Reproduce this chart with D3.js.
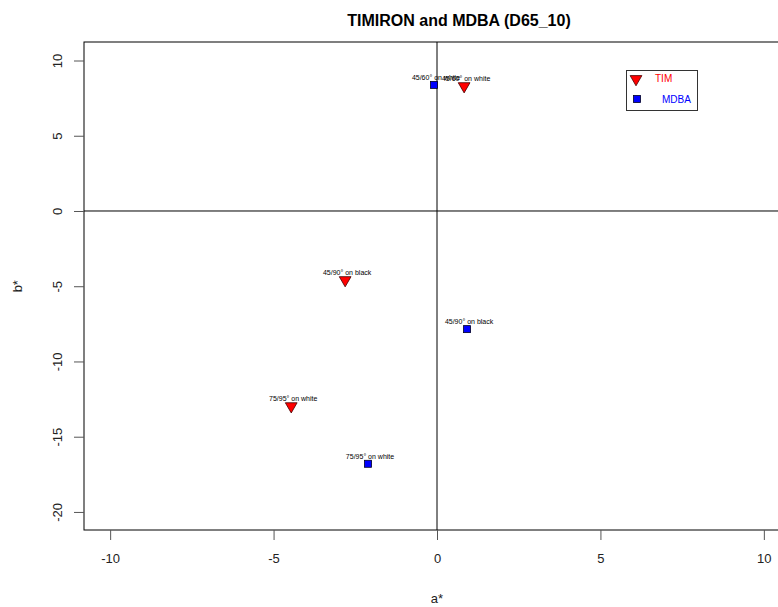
<!DOCTYPE html>
<html><head><meta charset="utf-8">
<script src="https://cdn.jsdelivr.net/npm/d3@7"></script>
<style>body{margin:0;background:#fff;} text{font-family:"Liberation Sans",Arial,sans-serif;}</style>
</head><body><svg id="c" width="778" height="607"></svg>
<script>
const series = ["TIM", "MDBA"];
const timA = [0.83, -2.81, -4.46];
const timB = [8.3, -4.59, -12.97];
const timLabels = ["45/60° on white", "45/90° on black", "75/95° on white"];
const mdbaA = [-0.09, 0.92, -2.11];
const mdbaB = [8.38, -7.85, -16.8];
const mdbaLabels = ["45/60° on white", "45/90° on black", "75/95° on white"];
const xTicks = [-10, -5, 0, 5, 10];
const yTicks = [-20, -15, -10, -5, 0, 5, 10];

const svg = d3.select("#c");
const L = 84, T = 42, R = 790, B = 530;
const x = d3.scaleLinear().domain([-10.8, 10.8]).range([L, R]);
const y = d3.scaleLinear().domain([-21.2, 11.23]).range([B, T]);
const fmt = d => String(d);

svg.append("text").attr("x", 459).attr("y", 26).attr("text-anchor", "middle")
  .attr("font-size", 16).attr("font-weight", "bold").text("TIMIRON and MDBA (D65_10)");

svg.append("rect").attr("x", L).attr("y", T).attr("width", R - L).attr("height", B - T)
  .attr("fill", "none").attr("stroke", "#000").attr("stroke-width", 1);

svg.append("line").attr("x1", L).attr("x2", R).attr("y1", y(0)).attr("y2", y(0)).attr("stroke", "#000");
svg.append("line").attr("x1", x(0)).attr("x2", x(0)).attr("y1", T).attr("y2", B).attr("stroke", "#000");

const xAxis = svg.append("g").attr("transform", `translate(0,${B})`)
  .call(d3.axisBottom(x).tickValues(xTicks).tickSize(10).tickPadding(14).tickFormat(fmt));
xAxis.select(".domain").remove();
xAxis.selectAll("line").attr("stroke", "#555");
xAxis.selectAll("text").attr("font-size", 13).attr("fill", "#222")
  .attr("font-family", "Liberation Sans, Arial, sans-serif");

const yAxis = svg.append("g").attr("transform", `translate(${L},0)`)
  .call(d3.axisLeft(y).tickValues(yTicks).tickSize(10).tickFormat(fmt));
yAxis.select(".domain").remove();
yAxis.selectAll("line").attr("stroke", "#555");
yAxis.selectAll("text").attr("font-size", 13).attr("fill", "#222")
  .attr("font-family", "Liberation Sans, Arial, sans-serif")
  .attr("text-anchor", "middle").attr("x", 0).attr("dy", null)
  .attr("transform", "translate(-27,0) rotate(-90)").attr("dominant-baseline", "central");

svg.append("text").attr("x", x(0)).attr("y", 603).attr("text-anchor", "middle")
  .attr("font-size", 13).attr("fill", "#222").text("a*");
svg.append("text").attr("transform", `translate(22,${y(-5)}) rotate(-90)`).attr("text-anchor", "middle")
  .attr("font-size", 13).attr("fill", "#222").text("b*");

const tri = d3.symbol().type(d3.symbolTriangle).size(60);
const timData = timA.map((a, i) => ({a, b: timB[i], label: timLabels[i]}));
const mdbaData = mdbaA.map((a, i) => ({a, b: mdbaB[i], label: mdbaLabels[i]}));

svg.append("g").selectAll("path").data(timData).join("path")
  .attr("d", tri).attr("transform", d => `translate(${x(d.a)},${y(d.b)}) rotate(180)`)
  .attr("fill", "#ff0000").attr("stroke", "#400").attr("stroke-width", 0.8);
svg.append("g").selectAll("rect").data(mdbaData).join("rect")
  .attr("x", d => x(d.a) - 3.5).attr("y", d => y(d.b) - 3.5).attr("width", 7).attr("height", 7)
  .attr("fill", "#0000ff").attr("stroke", "#002").attr("stroke-width", 0.8);

const allData = timData.concat(mdbaData);
svg.append("g").selectAll("text").data(allData).join("text")
  .attr("x", d => x(d.a) + 2).attr("y", d => y(d.b) - 5).attr("text-anchor", "middle")
  .attr("font-size", 7).attr("fill", "#000").text(d => d.label);

const lg = svg.append("g");
lg.append("rect").attr("x", 626.5).attr("y", 70.5).attr("width", 71).attr("height", 40)
  .attr("fill", "#fff").attr("stroke", "#333");
lg.append("path").attr("d", tri).attr("transform", "translate(636,79) rotate(180)")
  .attr("fill", "#ff0000").attr("stroke", "#400").attr("stroke-width", 0.8);
lg.append("rect").attr("x", 633.5).attr("y", 95.5).attr("width", 7).attr("height", 7)
  .attr("fill", "#0000ff").attr("stroke", "#002").attr("stroke-width", 0.8);
lg.append("text").attr("x", 655).attr("y", 82).attr("font-size", 10).attr("fill", "#ff0000").text(series[0]);
lg.append("text").attr("x", 662).attr("y", 103).attr("font-size", 10).attr("fill", "#0000ff").text(series[1]);
</script></body></html>
